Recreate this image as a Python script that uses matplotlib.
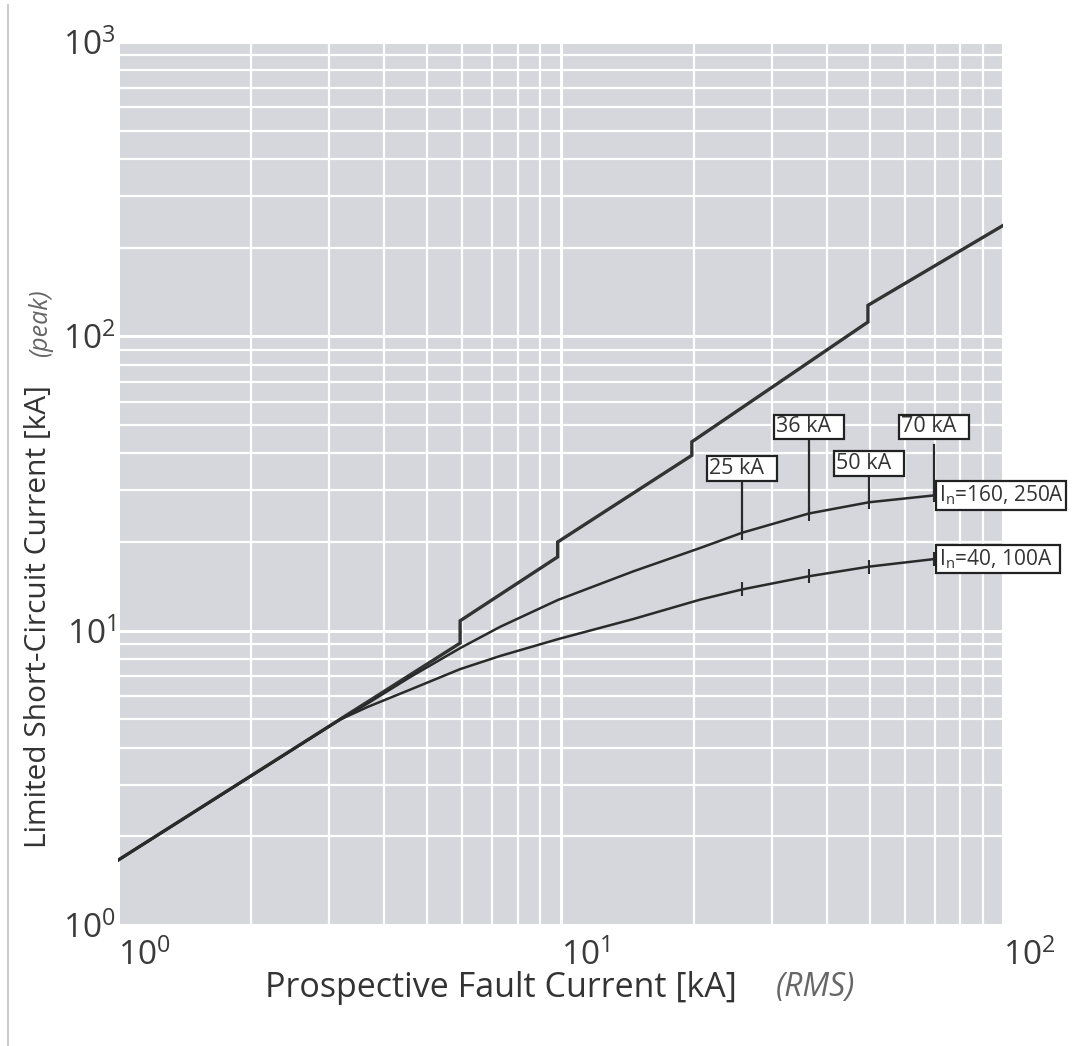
import numpy as np
import matplotlib
matplotlib.use('Agg')
import matplotlib.pyplot as plt
from matplotlib.ticker import NullFormatter
from matplotlib.lines import Line2D

plt.rcParams['font.family'] = ['Open Sans', 'DejaVu Sans']
plt.rcParams['mathtext.fontset'] = 'custom'
plt.rcParams['mathtext.rm'] = 'Open Sans'
plt.rcParams['mathtext.it'] = 'Open Sans:italic'
plt.rcParams['mathtext.default'] = 'regular'

# upper stepped line (unlimited peak)
upper_x = [1.0, 5.93, 5.93, 9.85, 9.85, 19.8, 19.8, 49.5, 49.5, 100.0]
upper_y = [1.66, 9.07, 10.8, 17.8, 20.0, 39.4, 43.8, 111.8, 127.4, 238.0]

# limited curves
curve_x = [1.0, 3.17, 3.66, 4.57, 5.93, 7.3, 9.85, 14.6, 20.7, 25.7, 36.4, 49.8, 69.8]
y_160_250 = [1.66, 4.98, 5.65, 6.95, 8.72, 10.3, 12.7, 15.9, 19.1, 21.5, 25.0, 27.3, 28.8]
y_40_100 = [1.66, 4.98, 5.5, 6.3, 7.4, 8.2, 9.35, 10.95, 12.75, 13.8, 15.3, 16.5, 17.5]

# breaking capacity marks
bc_labels = ['25 kA', '36 kA', '50 kA', '70 kA']
bc_x = [25.7, 36.4, 49.8, 69.8]
bc_box_y = [32.7, 45.4, 34.0, 45.4]
bc_leader_top = [32.7, 45.4, 33.0, 42.7]

curve_labels = [r'I$_{\mathrm{n}}$=160, 250A', r'I$_{\mathrm{n}}$=40, 100A']

fig = plt.figure(figsize=(10.72, 10.46), dpi=100)
ax = fig.add_axes([0.1101, 0.1157, 0.8256, 0.8442])
ax.set_facecolor('#d5d7dd')
ax.set_xscale('log')
ax.set_yscale('log')
ax.set_xlim(1, 100)
ax.set_ylim(1, 1000)
for s in ax.spines.values():
    s.set_visible(False)
ax.grid(which='major', color='white', lw=2.2)
ax.grid(which='minor', color='white', lw=1.6)
ax.set_axisbelow(True)
ax.xaxis.set_minor_formatter(NullFormatter())
ax.yaxis.set_minor_formatter(NullFormatter())
ax.tick_params(which='both', length=0, labelsize=24, labelcolor='#3a3a3a')
ax.tick_params(axis='x', pad=10)
ax.tick_params(axis='y', pad=2)
for lab in ax.get_xticklabels():
    lab.set_ha('left')

ax.plot(upper_x, upper_y, color='#333333', lw=2.4, solid_joinstyle='miter')
ax.plot(curve_x, y_160_250, color='#2a2a2a', lw=1.8)
ax.plot(curve_x, y_40_100, color='#2a2a2a', lw=1.8)

# ticks on the curves
n = len(bc_x)
ax.plot(curve_x[-n:], y_160_250[-n:], ls='none', marker='|', ms=10, mew=1.5, color='#2a2a2a')
ax.plot(curve_x[-n:], y_40_100[-n:], ls='none', marker='|', ms=10, mew=1.5, color='#2a2a2a')

for i in range(n):
    y0 = y_160_250[-n + i]
    ax.plot([bc_x[i], bc_x[i]], [y0, bc_leader_top[i]], color='#2a2a2a', lw=1.6)
    ax.text(bc_x[i], bc_box_y[i], bc_labels[i] + '  ', ha='center', va='bottom', fontsize=15.5,
            color='#333333',
            bbox=dict(boxstyle='square,pad=0.08', fc='white', ec='#222222', lw=1.6))

ax.text(71.5, y_160_250[-1], curve_labels[0] + ' ', ha='left', va='center', fontsize=15,
        color='#333333', clip_on=False,
        bbox=dict(boxstyle='square,pad=0.12', fc='white', ec='#222222', lw=1.6))
ax.text(71.5, y_40_100[-1], curve_labels[1] + '  ', ha='left', va='center', fontsize=15,
        color='#333333', clip_on=False,
        bbox=dict(boxstyle='square,pad=0.12', fc='white', ec='#222222', lw=1.6))

fig.text(0.4675, 0.0555, 'Prospective Fault Current [kA]', ha='center', va='center',
         fontsize=24.5, color='#333333')
fig.text(0.761, 0.0555, '(RMS)', ha='center', va='center', fontsize=23,
         style='italic', color='#666666')
fig.text(0.036, 0.411, 'Limited Short-Circuit Current [kA]', ha='center', va='center',
         rotation=90, fontsize=21.5, color='#333333')
fig.text(0.038, 0.691, '(peak)', ha='center', va='center', rotation=90,
         fontsize=18, style='italic', color='#666666')

fig.add_artist(Line2D([0.007, 0.007], [0, 0.995], color='#cccccc', lw=1.5))

fig.savefig('out.png', dpi=100)
